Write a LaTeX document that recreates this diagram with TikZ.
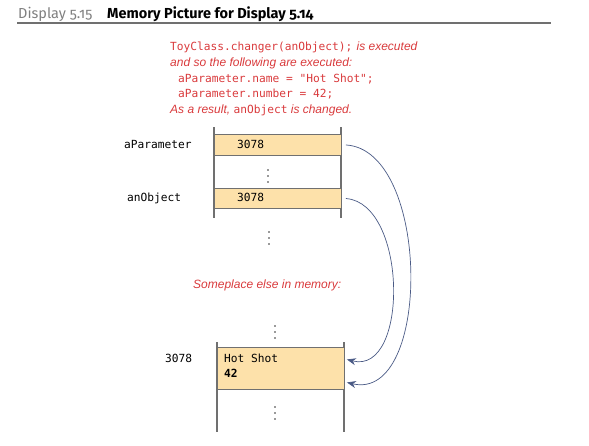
\documentclass[tikz,border=0pt]{standalone}
\usepackage{fontspec}
\setmainfont{Liberation Sans}
\setmonofont{DejaVu Sans Mono}
\newfontfamily\headfont[Numbers=OldStyle]{Fira Sans}
\usetikzlibrary{arrows.meta}
\definecolor{cellfill}{HTML}{FDE1AA}
\definecolor{wallgray}{HTML}{707070}
\definecolor{notered}{HTML}{D93A3C}
\definecolor{ptrblue}{HTML}{4A5A85}

\begin{document}
\begin{tikzpicture}[x=1pt, y=-1pt,
    wall/.style={wallgray, line width=1.1pt},
    cell/.style={draw=wallgray, line width=0.9pt, fill=cellfill, minimum width=127pt,
                 inner sep=0pt, anchor=north west},
    code/.style={font=\ttfamily\fontsize{11.2}{13}\selectfont, inner sep=0pt, anchor=base west},
    note/.style={font=\itshape\fontsize{12}{14}\selectfont, text=notered, inner sep=0pt, anchor=base west},
    dots/.style={minimum width=4pt, minimum height=16pt, inner sep=0pt,
                 path picture={
                   \foreach \k in {-6,0,6}
                     \fill[black!80] ([yshift=\k pt]path picture bounding box.center) circle (0.9pt);
                 }},
    ptr/.style={ptrblue, line width=0.7pt, -{Stealth[length=9pt,width=7pt]}}]
    \useasboundingbox (0,0) rectangle (589,445);

    % Heading
    \node[anchor=base west, inner sep=0pt, font=\headfont\fontsize{14.5}{16}\selectfont, text=gray] (dispnum) at (18,18) {Display 5.15};
    \node[anchor=base west, inner sep=0pt, font=\headfont\bfseries\fontsize{14.5}{16}\selectfont] (disptitle) at (107,18) {Memory Picture for Display 5.14};
    \draw[wallgray, line width=1.2pt] (17,23) -- (551,23);

    % What happens
    \node[code, text=notered] (call) at (170,50) {ToyClass.changer(anObject);};
    \node[note] (callnote) at ([xshift=4pt]call.base east) {is executed};
    \node[note] (follow) at (170,66) {and so the following are executed:};
    \node[code, text=notered] (setname) at (178,82) {aParameter.name = "Hot Shot";};
    \node[code, text=notered] (setnum) at (178,97) {aParameter.number = 42;};
    \node[note] (result) at (170,113) {As a result, {\upshape\ttfamily\fontsize{11.2}{13}\selectfont anObject} is changed.};

    % Variables
    \draw[wall] (214,127) -- (214,218);
    \draw[wall] (341,127) -- (341,218);
    \node[cell, minimum height=21pt] (param) at (214,134) {};
    \node[cell, minimum height=20pt] (obj) at (214,188) {};
    \node[code] (paramval) at (237,148) {3078};
    \node[code] (objval) at (237,201) {3078};
    \node[code] (paramname) at (124,148) {aParameter};
    \node[code] (objname) at (127,201) {anObject};
    \node[dots] (gapa) at (268,176) {};
    \node[dots] (gapb) at (269,238) {};

    \node[note] (elsewhere) at (193,288) {Someplace else in memory:};

    % The object
    \draw[wall] (217,342) -- (217,432);
    \draw[wall] (344,342) -- (344,432);
    \node[cell, minimum height=42pt] (hot) at (217,347) {};
    \node[code] (hotname) at (224,362) {Hot Shot};
    \node[code, font=\ttfamily\bfseries\fontsize{11.2}{13}\selectfont] (hotnum) at (224,377) {42};
    \node[code] (addr) at (165,362) {3078};
    \node[dots] (gapc) at (275,332) {};
    \node[dots] (gapd) at (275,413) {};

    % References
    \draw[ptr] ([xshift=4pt]param.east) .. controls +(85,5) and +(85,20) .. ([xshift=2pt,yshift=-14pt]hot.east);
    \draw[ptr] ([xshift=4pt]obj.east) .. controls +(62,5) and +(62,16) .. ([xshift=2pt,yshift=9pt]hot.east);
\end{tikzpicture}
\end{document}
